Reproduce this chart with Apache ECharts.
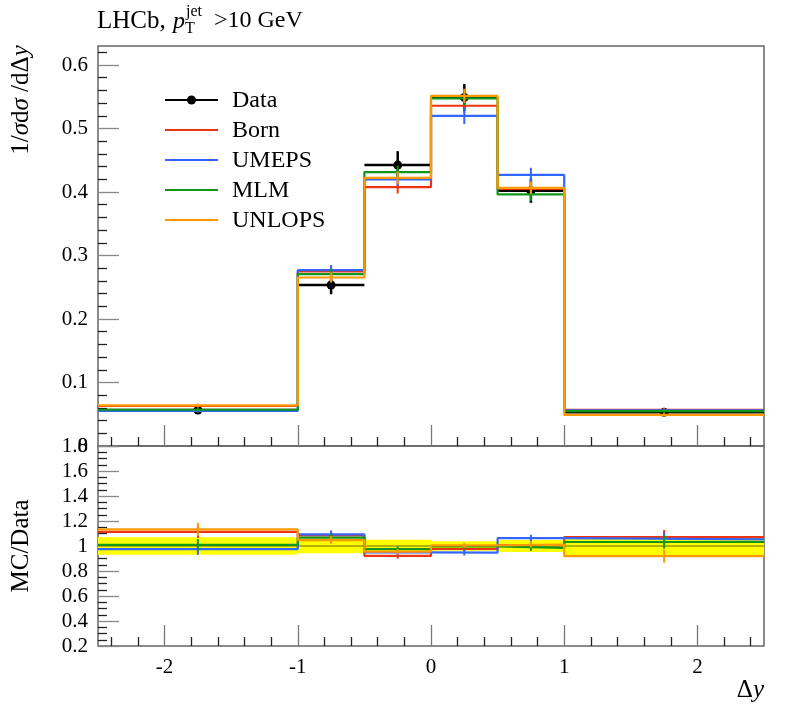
<!DOCTYPE html>
<html>
<head>
<meta charset="utf-8">
<script src="https://cdn.jsdelivr.net/npm/echarts@6/dist/echarts.min.js"></script>
<style>
html,body{margin:0;padding:0;background:#fff;}
#chart{width:789px;height:712px;}
</style>
</head>
<body>
<div id="chart"></div>
<script>
// ---- Data ----
const binEdges = [-2.5, -1, -0.5, 0, 0.5, 1, 2.5];
const dataVals = [0.0566, 0.2535, 0.4424, 0.549, 0.402, 0.0532];
const dataErr  = [0.004, 0.0145, 0.022, 0.021, 0.019, 0.0039];
const bornVals   = [0.063, 0.2749, 0.4077, 0.5359, 0.405, 0.057];
const bornErr    = [0.0028, 0.009, 0.010, 0.011, 0.010, 0.003];
const umepsVals  = [0.0552, 0.2769, 0.4199, 0.520, 0.4271, 0.056];
const umepsErr   = [0.0026, 0.008, 0.010, 0.013, 0.011, 0.0028];
const mlmVals    = [0.0571, 0.2706, 0.4314, 0.5475, 0.3962, 0.0549];
const mlmErr     = [0.0026, 0.008, 0.010, 0.011, 0.010, 0.0028];
const unlopsVals = [0.0641, 0.2654, 0.4224, 0.5516, 0.4066, 0.0489];
const unlopsErr  = [0.003, 0.008, 0.010, 0.011, 0.010, 0.0028];

const seriesNames = ['Born', 'UMEPS', 'MLM', 'UNLOPS'];
const mcVals = [bornVals, umepsVals, mlmVals, unlopsVals];
const mcErrs = [bornErr, umepsErr, mlmErr, unlopsErr];
const mcColors = ['#EE3311', '#3366FF', '#109618', '#FF9900'];

// ---- Tick labels ----
const xMajorTicks = [-2, -1, 0, 1, 2];
const yMainMajorTicks = [0, 0.1, 0.2, 0.3, 0.4, 0.5, 0.6];
const yRatioMajorTicks = [0.2, 0.4, 0.6, 0.8, 1, 1.2, 1.4, 1.6, 1.8];

function minorTicks(from, to, step, majors) {
  const out = [];
  const n = Math.round((to - from) / step);
  for (let k = 0; k <= n; k++) {
    const v = +(from + k * step).toFixed(4);
    if (!majors.some(m => Math.abs(m - v) < 1e-9)) out.push(v);
  }
  return out;
}
const xMinorTicks = minorTicks(-2.4, 2.4, 0.2, xMajorTicks);
const yMainMinorTicks = minorTicks(0.02, 0.62, 0.02, yMainMajorTicks);
const yRatioMinorTicks = minorTicks(0.25, 1.75, 0.05, yRatioMajorTicks);

const FONT = '"Liberation Serif", "Times New Roman", serif';

// ---- helpers ----
function stepPoints(vals) {
  const pts = [];
  vals.forEach((v, i) => { pts.push([binEdges[i], v]); pts.push([binEdges[i + 1], v]); });
  return pts;
}
function errRows(vals, errs) {
  return vals.map((v, i) => [(binEdges[i] + binEdges[i + 1]) / 2, v, errs[i]]);
}
function errBarRender(color, width) {
  return function (params, api) {
    const c = api.value(0), v = api.value(1), e = api.value(2);
    const t = api.coord([c, v + e]), b = api.coord([c, v - e]);
    return { type: 'line', shape: { x1: t[0], y1: t[1], x2: b[0], y2: b[1] },
             style: { stroke: color, lineWidth: width } };
  };
}

const series = [];
// Data in main panel
series.push({
  type: 'custom', name: 'Data', xAxisIndex: 0, yAxisIndex: 0, z: 2,
  itemStyle: { color: '#000' },
  encode: { x: [0, 1], y: [2] },
  data: dataVals.map((v, i) => [binEdges[i], binEdges[i + 1], v, dataErr[i]]),
  renderItem: function (params, api) {
    const lo = api.value(0), hi = api.value(1), v = api.value(2), e = api.value(3);
    const c = (lo + hi) / 2;
    const pl = api.coord([lo, v]), pr = api.coord([hi, v]);
    const pt = api.coord([c, v + e]), pb = api.coord([c, v - e]), pc = api.coord([c, v]);
    return { type: 'group', children: [
      { type: 'line', shape: { x1: pl[0], y1: pl[1], x2: pr[0], y2: pr[1] }, style: { stroke: '#000', lineWidth: 2.5 } },
      { type: 'line', shape: { x1: pt[0], y1: pt[1], x2: pb[0], y2: pb[1] }, style: { stroke: '#000', lineWidth: 2.5 } },
      { type: 'circle', shape: { cx: pc[0], cy: pc[1], r: 4.5 }, style: { fill: '#000' } }
    ]};
  }
});
// Ratio band (data)
series.push({
  type: 'custom', name: 'DataBand', xAxisIndex: 2, yAxisIndex: 2, z: 2,
  encode: { x: [0, 1], y: [2] },
  data: dataVals.map((v, i) => [binEdges[i], binEdges[i + 1], dataErr[i] / v]),
  renderItem: function (params, api) {
    const lo = api.value(0), hi = api.value(1), r = api.value(2);
    const a = api.coord([lo, 1 + r]), b = api.coord([hi, 1 - r]);
    const l1 = api.coord([lo, 1]), l2 = api.coord([hi, 1]);
    return { type: 'group', children: [
      { type: 'rect', shape: { x: a[0], y: a[1], width: b[0] - a[0], height: b[1] - a[1] }, style: { fill: '#FFFF00' } },
      { type: 'line', shape: { x1: l1[0], y1: l1[1], x2: l2[0], y2: l2[1] }, style: { stroke: '#000', lineWidth: 1, opacity: 0.6 } }
    ]};
  }
});

mcVals.forEach((vals, k) => {
  const col = mcColors[k];
  const ratio = vals.map((v, i) => v / dataVals[i]);
  const ratioErr = mcErrs[k].map((e, i) => e / dataVals[i]);
  series.push({
    type: 'line', name: seriesNames[k], xAxisIndex: 0, yAxisIndex: 0, z: 3 + k,
    data: stepPoints(vals), showSymbol: false, symbol: 'none', animation: false,
    itemStyle: { color: col }, lineStyle: { color: col, width: 2.2 }
  });
  series.push({
    type: 'custom', name: seriesNames[k] + ' err', xAxisIndex: 0, yAxisIndex: 0, z: 3 + k,
    encode: { x: 0, y: 1 }, data: errRows(vals, mcErrs[k]), renderItem: errBarRender(col, 2)
  });
  series.push({
    type: 'line', name: seriesNames[k] + ' ratio', xAxisIndex: 2, yAxisIndex: 2, z: 3 + k,
    data: stepPoints(ratio), showSymbol: false, symbol: 'none', animation: false,
    itemStyle: { color: col }, lineStyle: { color: col, width: 2.2 }
  });
  series.push({
    type: 'custom', name: seriesNames[k] + ' ratio err', xAxisIndex: 2, yAxisIndex: 2, z: 3 + k,
    encode: { x: 0, y: 1 }, data: errRows(ratio, ratioErr), renderItem: errBarRender(col, 2)
  });
});

const GL = 98, GW = 666;
function xAx(grid, ticks, len, color, labels) {
  return {
    type: 'value', gridIndex: grid, position: 'bottom', min: -2.5, max: 2.5,
    axisLine: { show: false, onZero: false }, splitLine: { show: false },
    axisTick: { show: true, inside: true, length: len, customValues: ticks, lineStyle: { color: color, width: 1.3 } },
    axisLabel: labels ? { show: true, customValues: ticks, margin: 11, color: '#000', fontSize: 21, fontFamily: FONT }
                      : { show: false }
  };
}
function yAx(grid, min, max, ticks, len, color, labels) {
  return {
    type: 'value', gridIndex: grid, position: 'left', min: min, max: max,
    axisLine: { show: false, onZero: false }, splitLine: { show: false },
    axisTick: { show: true, inside: true, length: len, customValues: ticks, lineStyle: { color: color, width: 1.3 } },
    axisLabel: labels ? { show: true, customValues: ticks, margin: 10, color: '#000', fontSize: 21, fontFamily: FONT }
                      : { show: false }
  };
}

const legendRows = [
  { name: 'Data', color: '#000', y: 100 },
  { name: 'Born', color: mcColors[0], y: 130 },
  { name: 'UMEPS', color: mcColors[1], y: 160 },
  { name: 'MLM', color: mcColors[2], y: 190 },
  { name: 'UNLOPS', color: mcColors[3], y: 220 }
];
const graphics = [];
legendRows.forEach(r => {
  graphics.push({ type: 'line', shape: { x1: 165, y1: r.y, x2: 218, y2: r.y }, style: { stroke: r.color, lineWidth: 2.2 } });
  graphics.push({ type: 'text', x: 232, y: r.y + 1, style: { text: r.name, font: '24px ' + FONT, fill: '#000', align: 'left', verticalAlign: 'middle', textAlign: 'left', textVerticalAlign: 'middle' } });
});
graphics.push({ type: 'circle', shape: { cx: 191.5, cy: 100, r: 4.5 }, style: { fill: '#000' } });

// Title
graphics.push({ type: 'text', x: 97, y: 21, style: { text: 'LHCb,', font: '25px ' + FONT, fill: '#000', verticalAlign: 'middle', textVerticalAlign: 'middle' } });
graphics.push({ type: 'text', x: 173, y: 22, style: { text: 'p', font: 'italic 24px ' + FONT, fill: '#000', verticalAlign: 'middle', textVerticalAlign: 'middle' } });
graphics.push({ type: 'text', x: 186, y: 12, style: { text: 'jet', font: '16px ' + FONT, fill: '#000', verticalAlign: 'middle', textVerticalAlign: 'middle' } });
graphics.push({ type: 'text', x: 185, y: 29, style: { text: 'T', font: '16px ' + FONT, fill: '#000', verticalAlign: 'middle', textVerticalAlign: 'middle' } });
graphics.push({ type: 'text', x: 214, y: 21, style: { text: '>10 GeV', font: '24px ' + FONT, fill: '#000', verticalAlign: 'middle', textVerticalAlign: 'middle' } });

// Axis titles
const richBase = {
  n: { fontFamily: FONT, fontSize: 25, fill: '#000', color: '#000' },
  i: { fontFamily: FONT, fontSize: 25, fontStyle: 'italic', fill: '#000', color: '#000' }
};
graphics.push({ type: 'text', x: 21, y: 100, rotation: Math.PI / 2,
  style: { text: '{n|1/}{i|σ}{n|d}{i|σ}{n| /d}{n|Δ}{i|y}', rich: richBase, font: '25px ' + FONT, fill: '#000',
           align: 'center', verticalAlign: 'middle', textAlign: 'center', textVerticalAlign: 'middle' } });
graphics.push({ type: 'text', x: 21, y: 546, rotation: Math.PI / 2,
  style: { text: 'MC/Data', font: '25px ' + FONT, fill: '#000',
           align: 'center', verticalAlign: 'middle', textAlign: 'center', textVerticalAlign: 'middle' } });
graphics.push({ type: 'text', x: 764, y: 690,
  style: { text: '{n|Δ}{i|y}', rich: richBase, font: '25px ' + FONT, fill: '#000',
           align: 'right', verticalAlign: 'middle', textAlign: 'right', textVerticalAlign: 'middle' } });

const option = {
  animation: false,
  backgroundColor: '#fff',
  grid: [
    { left: GL, top: 46, width: GW, height: 400, show: true, borderColor: '#666', borderWidth: 1.5, backgroundColor: 'transparent', containLabel: false },
    { left: GL, top: 446, width: GW, height: 200, show: true, borderColor: '#666', borderWidth: 1.5, backgroundColor: 'transparent', containLabel: false }
  ],
  xAxis: [
    xAx(0, xMajorTicks, 21, '#777', false),
    xAx(0, xMinorTicks, 9, '#222', false),
    xAx(1, xMajorTicks, 21, '#777', true),
    xAx(1, xMinorTicks, 9, '#222', false)
  ],
  yAxis: [
    yAx(0, 0, 0.63, yMainMajorTicks, 21, '#888', true),
    yAx(0, 0, 0.63, yMainMinorTicks, 9, '#222', false),
    yAx(1, 0.2, 1.8, yRatioMajorTicks, 21, '#888', true),
    yAx(1, 0.2, 1.8, yRatioMinorTicks, 9, '#222', false)
  ],
  series: series,
  graphic: { elements: graphics }
};

const chart = echarts.init(document.getElementById('chart'), null, { renderer: 'canvas' });
chart.setOption(option);
</script>
</body>
</html>
